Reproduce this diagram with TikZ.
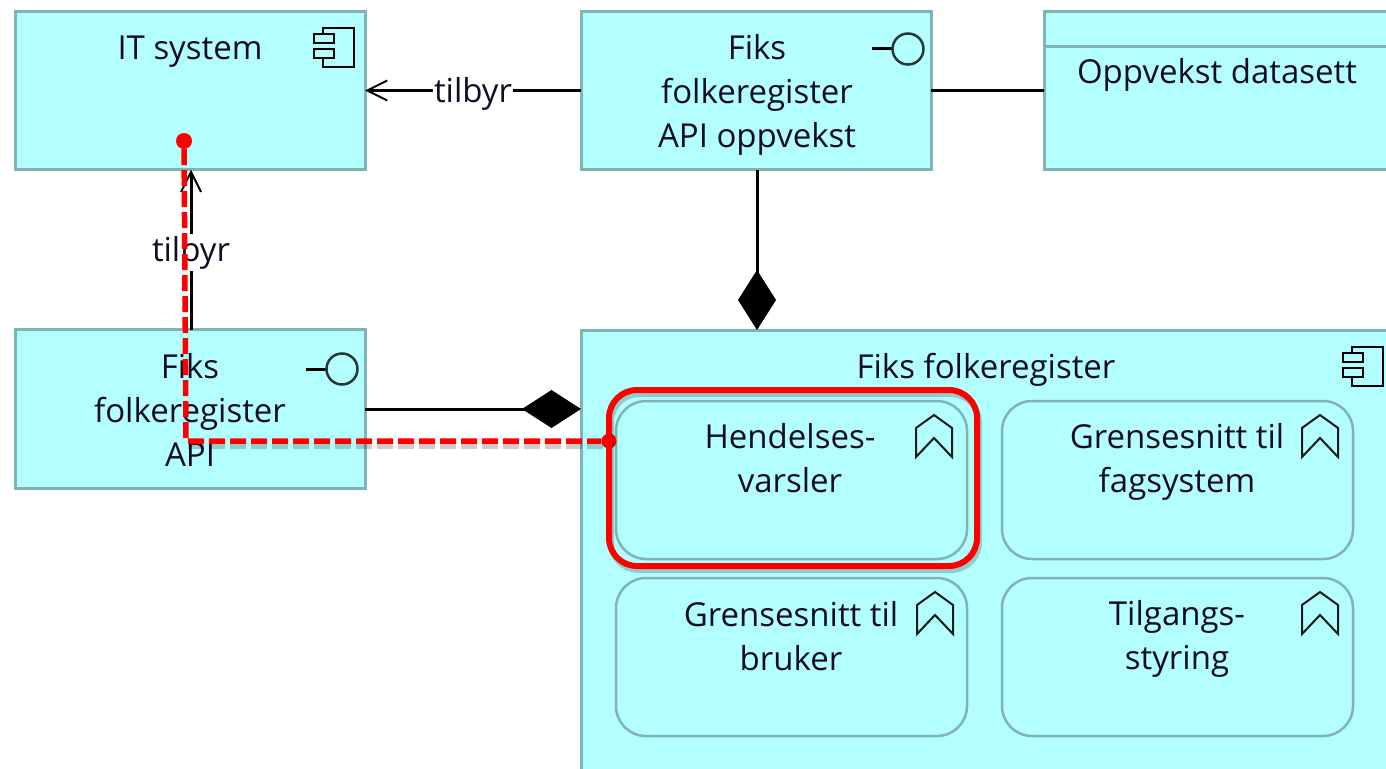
\documentclass[tikz,border=0pt]{standalone}
\usepackage{fontspec}
\setmainfont{Open Sans}
\usetikzlibrary{arrows.meta, positioning}
\definecolor{boxfill}{HTML}{B3FFFF}
\definecolor{boxline}{HTML}{80B4B4}
\definecolor{txt}{HTML}{140C24}
\tikzset{
  box/.style={draw=boxline, fill=boxfill, line width=3pt, inner sep=0pt, outer sep=0pt, minimum width=350pt, minimum height=158.5pt},
  func/.style={box, line width=2.5pt, rounded corners=30pt, minimum width=351pt, minimum height=158pt},
  boxtext/.style={font=\fontsize{33}{44}\selectfont, text=txt, align=center, inner sep=0pt},
  conn/.style={line width=3pt, black},
  edgetext/.style={boxtext, fill=white, inner xsep=1pt, inner ysep=2pt, yshift=-3pt},
  barb/.style={-{Straight Barb[length=20pt,width=20pt,line width=2pt]}},
  redline/.style={red, line width=5.5pt, dash pattern=on 16pt off 5pt},
  reddot/.style={circle, fill=red, inner sep=0pt, minimum size=#1},
  shade/.style={black, opacity=0.2, line width=6pt},
  compicon/.pic={
    \draw[line width=2.7pt, black] (0,6) -- (0,0) -- (31,0) -- (31,39) -- (0,39) -- (0,30);
    \draw[line width=2.7pt, black, fill=boxfill] (-9,6) rectangle (11,15);
    \draw[line width=2.7pt, black, fill=boxfill] (-9,21) rectangle (11,30);
  },
  ifaceicon/.pic={
    \draw[line width=3pt, black] (-36,0) -- (-15,0);
    \draw[line width=2.5pt, black!70!boxline] (0,0) circle (15.5);
  },
  capicon/.pic={
    \draw[line width=2pt, black!85!boxline, line join=miter] (-18,42) -- (-18,13) -- (0,0) -- (18,13) -- (18,42) -- (0,23) -- cycle;
  },
}
\begin{document}
\begin{tikzpicture}[x=1pt, y=-1pt, node distance=16pt]
\useasboundingbox (0,0) rectangle (1386,768);
\clip (0,0) rectangle (1386,768);

\node[box] (itsys) at (190,90.5) {};
\node[box] (apiopp) [right=216pt of itsys] {};
\node[box, minimum width=400pt, anchor=west] (dataset) at (1044,90.5) {};
\node[box] (api) [below=160pt of itsys] {};
\node[box, minimum width=900pt, minimum height=600pt, anchor=north west] (fiks) at (581,330) {};
\draw[draw=boxline, line width=3pt] (dataset.west |- 0,47) -- (dataset.east |- 0,47);

\node[func] (hendelse) at (791.5,480) {};
\node[func] (fagsys) [right=35pt of hendelse] {};
\node[func] (bruker) [below=19pt of hendelse] {};
\node[func] (tilgang) [right=35pt of bruker] {};

\node[boxtext] (ittext) at (190,52) {IT system};
\node[boxtext] (apiopptext) at (757,95) {Fiks\\folkeregister\\API oppvekst};
\node[boxtext] (datasettext) at (1217,75) {Oppvekst datasett};
\node[boxtext] (apitext) at (190,410) {Fiks\\folkeregister\\API};
\node[boxtext] (fikstext) at (986,370) {Fiks folkeregister};
\node[boxtext] (hendelsetext) at (790,458) {Hendelses-\\varsler};
\node[boxtext] (fagsystext) at (1177,462) {Grensesnitt til\\fagsystem};
\node[boxtext] (brukertext) at (791,636) {Grensesnitt til\\bruker};
\node[boxtext] (tilgangtext) at (1177,639) {Tilgangs-\\styring};

\pic at (323,28) {compicon};
\pic at (1352,347) {compicon};
\pic at (908,49) {ifaceicon};
\pic at (342,369) {ifaceicon};
\pic at (934,415) {capicon};
\pic at (1320,415) {capicon};
\pic at (935,592) {capicon};
\pic at (1320,592) {capicon};

\draw[conn, barb] (apiopp) -- node[edgetext] (tilbyrtop) {tilbyr} (itsys);
\draw[conn, barb] ([xshift=1pt]api.north) -- node[edgetext] (tilbyrleft) {tilbyr} ([xshift=1pt]itsys.south);
\draw[conn] (apiopp) -- (dataset);
\draw[conn, {Diamond[length=60pt,width=38pt]}-] ([xshift=1pt]apiopp.south |- fiks.north) -- ([xshift=1pt]apiopp.south);
\draw[conn, {Diamond[length=59pt,width=38pt]}-] (api.east -| fiks.west) -- (api.east);

\node[reddot=16pt] (dotit) at (184,141) {};
\node[reddot=15pt] (dothend) at (609,441) {};
\coordinate (bend) at (186,441);

\draw[shade, rounded corners=28pt] (611,394) rectangle (979,570);
\draw[shade, dash pattern=on 16pt off 5pt] (bend) ++(2,5) -- (dothend.center |- 0,446);
\draw[red, line width=6pt, rounded corners=28pt] (609,390) rectangle (977,566);
\draw[redline] (dotit) -- (bend) -- (dothend);
\end{tikzpicture}
\end{document}
